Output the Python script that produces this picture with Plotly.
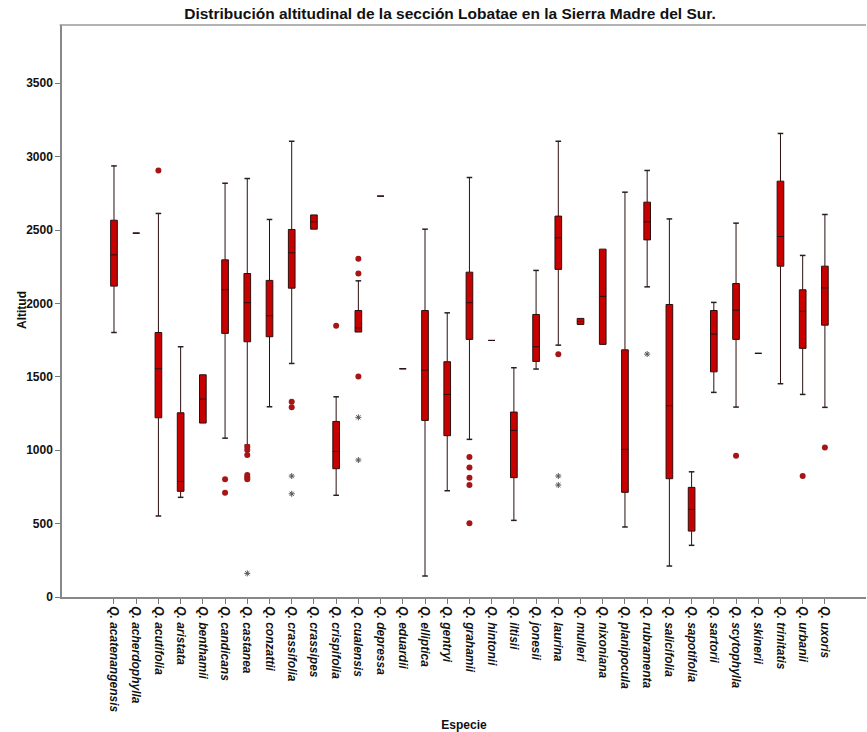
import plotly.graph_objects as go

species = ["Q. acatenangensis", "Q. acherdophylla", "Q. acutifolia", "Q. aristata", "Q. benthamii",
           "Q. candicans", "Q. castanea", "Q. conzattii", "Q. crassifolia", "Q. crassipes",
           "Q. crispifolia", "Q. cualensis", "Q. depressa", "Q. eduardii", "Q. elliptica",
           "Q. gentryi", "Q. grahamii", "Q. hintonii", "Q. iltisii", "Q. jonesii", "Q. laurina",
           "Q. mulleri", "Q. nixoniana", "Q. planipocula", "Q. rubramenta", "Q. salicifolia",
           "Q. sapotifolia", "Q. sartorii", "Q. scytophylla", "Q. skinerii", "Q. trinitatis",
           "Q. urbanii", "Q. uxoris"]

lower = [1802, 2479, 552, 679, 1185, 1082, 1035, 1296, 1591, 2506, 693, 1805, 2731, 1555, 143,
         724, 1074, 1748, 522, 1553, 1716, 1857, 1721, 477, 2113, 211, 352, 1394, 1294, 1660,
         1453, 1380, 1292]
q1 = [2118, 2479, 1221, 720, 1185, 1796, 1739, 1773, 2104, 2506, 874, 1805, 2731, 1555, 1203,
      1099, 1755, 1748, 813, 1605, 2232, 1857, 1721, 713, 2433, 806, 449, 1534, 1755, 1660,
      2254, 1694, 1852]
median = [2331, 2479, 1555, 787, 1348, 2093, 2005, 1916, 2345, 2556, 992, 1834, 2731, 1555, 1546,
          1380, 2005, 1748, 1135, 1705, 2447, 1877, 2048, 1006, 2556, 1303, 597, 1791, 1954, 1660,
          2456, 1947, 2106]
q3 = [2567, 2479, 1802, 1255, 1514, 2297, 2204, 2157, 2504, 2603, 1196, 1952, 2731, 1555, 1952,
      1603, 2213, 1748, 1260, 1925, 2595, 1898, 2370, 1684, 2690, 1993, 747, 1952, 2136, 1660,
      2833, 2093, 2254]
upper = [2937, 2479, 2613, 1705, 1514, 2819, 2851, 2572, 3105, 2603, 1364, 2154, 2731, 1555, 2506,
         1936, 2858, 1748, 1562, 2225, 3105, 1898, 2370, 2758, 2906, 2576, 853, 2007, 2547, 1660,
         3158, 2327, 2606]

circle_species = ["Q. acutifolia", "Q. candicans", "Q. candicans",
                  "Q. castanea", "Q. castanea", "Q. castanea", "Q. castanea", "Q. castanea", "Q. castanea",
                  "Q. crassifolia", "Q. crassifolia", "Q. crispifolia",
                  "Q. cualensis", "Q. cualensis", "Q. cualensis",
                  "Q. grahamii", "Q. grahamii", "Q. grahamii", "Q. grahamii", "Q. grahamii",
                  "Q. laurina", "Q. scytophylla", "Q. urbanii", "Q. uxoris"]
circle_values = [2905, 802, 711,
                 1024, 1001, 967, 831, 815, 802,
                 1330, 1292, 1848,
                 2304, 2204, 1503,
                 953, 883, 813, 763, 502,
                 1653, 962, 824, 1019]

star_species = ["Q. castanea", "Q. crassifolia", "Q. crassifolia", "Q. cualensis", "Q. cualensis",
                "Q. laurina", "Q. laurina", "Q. rubramenta"]
star_values = [161, 824, 703, 1224, 933, 824, 763, 1655]

y_ticks = [0, 500, 1000, 1500, 2000, 2500, 3000, 3500]

fig = go.Figure()

fig.add_trace(go.Box(
    x=species, q1=q1, median=median, q3=q3, lowerfence=lower, upperfence=upper,
    boxpoints=False, width=0.3,
    fillcolor="#C80000", line=dict(color="#2b0f0f", width=1),
    whiskerwidth=0, showlegend=False, hoverinfo="skip",
))

# whisker caps
cap_x, cap_y = [], []
for s, lo, a, b, hi in zip(species, lower, q1, q3, upper):
    if lo < a:
        cap_x.append(s); cap_y.append(lo)
    if hi > b:
        cap_x.append(s); cap_y.append(hi)
fig.add_trace(go.Scatter(
    x=cap_x, y=cap_y, mode="markers",
    marker=dict(symbol="line-ew", size=4, line=dict(color="#222", width=1.5)),
    showlegend=False, hoverinfo="skip",
))

fig.add_trace(go.Scatter(
    x=circle_species, y=circle_values, mode="markers",
    marker=dict(symbol="circle", size=6, color="#A51515"),
    showlegend=False,
))
fig.add_trace(go.Scatter(
    x=star_species, y=star_values, mode="markers",
    marker=dict(symbol="asterisk-open", size=5, color="#555", line=dict(color="#555", width=1)),
    showlegend=False,
))

fig.update_layout(
    width=867, height=732,
    margin=dict(l=62, r=1, t=25, b=135),
    paper_bgcolor="white", plot_bgcolor="white",
    font=dict(family="Arial, Liberation Sans, sans-serif", color="#111"),
    title=dict(text="Distribución altitudinal de la sección Lobatae en la Sierra Madre del Sur.",
               x=0.519, xanchor="center", y=0.981, yanchor="middle",
               font=dict(size=15.5, weight="bold", color="#111")),
    showlegend=False,
)
fig.update_xaxes(
    type="category", categoryorder="array", categoryarray=species,
    range=[-2.34, 33.85],
    tickangle=90, tickfont=dict(size=12, weight="bold", style="italic", color="#111"),
    ticks="outside", ticklen=5, tickcolor="#777", tickwidth=1,
    showline=True, linecolor="#888", linewidth=1.5, mirror=False,
    showgrid=False, zeroline=False,
    title=dict(text="Especie", font=dict(size=12, weight="bold"), standoff=10),
)
fig.update_yaxes(
    range=[0, 3897], tickvals=y_ticks,
    tickfont=dict(size=12, weight="bold", color="#111"),
    ticks="outside", ticklen=5, tickcolor="#777", tickwidth=1,
    showline=True, linecolor="#888", linewidth=1.5,
    showgrid=False, zeroline=False,
)
fig.add_annotation(text="<b>Altitud</b>", xref="paper", yref="paper",
                   x=(22 - 62) / 804, y=(597 - 310) / 572, xanchor="center", yanchor="middle",
                   textangle=-90, showarrow=False, font=dict(size=12, color="#111"))
# top border line of the plot frame
fig.add_shape(type="line", xref="paper", yref="paper", x0=-0.003, x1=1, y0=1, y1=1,
              line=dict(color="#999", width=1.5))

fig.write_html("out.html")
